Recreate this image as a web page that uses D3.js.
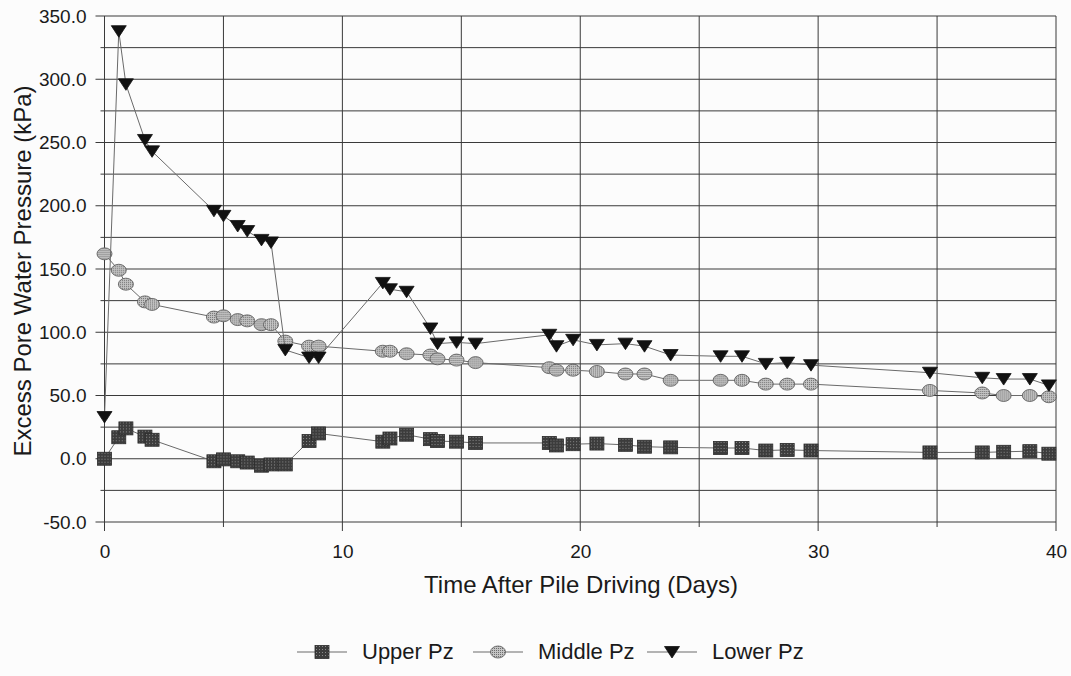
<!DOCTYPE html>
<html>
<head>
<meta charset="utf-8">
<script src="https://cdn.jsdelivr.net/npm/d3@7"></script>
<style>
  body { margin: 0; background: #fcfcfc; }
  text { font-family: "Liberation Sans", Arial, sans-serif; fill: #1a1a1a; }
</style>
</head>
<body>
<script>
"use strict";

// Width and height of the page
let w = 1071;
let h = 676;

// Days after pile driving (shared by all three piezometers)
let days = [0, 0.6, 0.9, 1.7, 2.0, 4.6, 5.0, 5.6, 6.0, 6.6, 7.0, 7.6, 8.6, 9.0,
            11.7, 12.0, 12.7, 13.7, 14.0, 14.8, 15.6, 18.7, 19.0, 19.7, 20.7, 21.9,
            22.7, 23.8, 25.9, 26.8, 27.8, 28.7, 29.7, 34.7, 36.9, 37.8, 38.9, 39.7];

let upperPz = [0, 17, 24, 17.5, 15, -2, -0.5, -2, -3, -5.5, -4.5, -4.5, 14, 20,
               13.5, 16, 19, 15.5, 14, 13.5, 12.5, 12.5, 10.5, 11.5, 12, 11,
               9.5, 9, 8.5, 8.5, 6.5, 7, 6.5, 5, 5, 5.5, 6, 4];

let middlePz = [162, 149, 138, 124, 122, 112, 113, 110, 109, 106, 106, 93, 89, 89,
                85, 85, 83, 82, 79, 78, 76, 72, 70, 70, 69, 67,
                67, 62, 62, 62, 59, 59, 59, 54, 52, 50, 50, 49];

let lowerPz = [33, 338, 296, 252, 243, 196, 192, 184, 180, 173, 171, 86, 80, 80,
               139, 134, 132, 103, 91, 92, 91, 98, 89, 94, 90, 91,
               89, 82, 81, 81, 75, 76, 74, 68, 64, 63, 63, 58];

let seriesNames = ["Upper Pz", "Middle Pz", "Lower Pz"];
let xTicks = [0, 10, 20, 30, 40];
let yTicks = [-50, 0, 50, 100, 150, 200, 250, 300, 350];

let x = d3.scaleLinear().domain([0, 40]).range([104.5, 1056]);
let y = d3.scaleLinear().domain([-50, 350]).range([522, 16]);

let svg = d3.select("body").append("svg")
    .attr("width", w)
    .attr("height", h);

// fill patterns for the scanned-looking markers
let defs = svg.append("defs");
let sq = defs.append("pattern").attr("id", "sqfill")
    .attr("width", 3).attr("height", 3).attr("patternUnits", "userSpaceOnUse");
sq.append("rect").attr("width", 3).attr("height", 3).attr("fill", "#3c3c3c");
sq.append("rect").attr("width", 1).attr("height", 1).attr("fill", "#8a8a8a");
let ci = defs.append("pattern").attr("id", "cifill")
    .attr("width", 2).attr("height", 2).attr("patternUnits", "userSpaceOnUse");
ci.append("rect").attr("width", 2).attr("height", 2).attr("fill", "#c4c4c4");
ci.append("rect").attr("width", 1).attr("height", 1).attr("fill", "#6e6e6e");

// grid: horizontal every 25, vertical every 5
let grid = svg.append("g").attr("class", "grid")
    .attr("stroke", "#3a3a3a").attr("stroke-width", 1);
grid.selectAll("line.hy")
    .data(d3.range(-50, 351, 25))
    .enter().append("line")
    .attr("x1", d => x(0) - (d % 50 === 0 ? 9 : 4))
    .attr("x2", x(40))
    .attr("y1", d => y(d)).attr("y2", d => y(d));
grid.selectAll("line.vx")
    .data(d3.range(0, 41, 5))
    .enter().append("line")
    .attr("x1", d => x(d)).attr("x2", d => x(d))
    .attr("y1", y(350))
    .attr("y2", d => y(-50) + (d % 10 === 0 ? 9 : 5));

// axis labels via d3 axes (lines hidden, grid drawn above)
let fmt = d => d3.format(".1f")(d).replace("\u2212", "-");
let yAxis = svg.append("g")
    .attr("transform", `translate(${x(0)},0)`)
    .call(d3.axisLeft(y).tickValues(yTicks).tickFormat(fmt).tickSize(0).tickPadding(18));
yAxis.select(".domain").remove();
yAxis.selectAll("text").attr("font-size", 19).attr("font-family", null).attr("fill", "#1a1a1a");

let xAxis = svg.append("g")
    .attr("transform", `translate(0,${y(-50)})`)
    .call(d3.axisBottom(x).tickValues(xTicks).tickSize(0).tickPadding(23));
xAxis.select(".domain").remove();
xAxis.selectAll("text").attr("font-size", 19).attr("font-family", null).attr("fill", "#1a1a1a");

svg.append("text")
    .attr("x", 581).attr("y", 593)
    .attr("text-anchor", "middle")
    .attr("font-size", 24)
    .text("Time After Pile Driving (Days)");

svg.append("text")
    .attr("transform", "translate(31,271) rotate(-90)")
    .attr("text-anchor", "middle")
    .attr("font-size", 24)
    .text("Excess Pore Water Pressure (kPa)");

// marker drawing
let drawMarker = function(sel, kind) {
    if (kind === 0) {
        sel.append("rect")
            .attr("x", -7).attr("y", -6.5).attr("width", 14).attr("height", 13)
            .attr("fill", "url(#sqfill)").attr("stroke", "#2a2a2a").attr("stroke-width", 0.8);
    } else if (kind === 1) {
        sel.append("ellipse")
            .attr("rx", 7.5).attr("ry", 6)
            .attr("fill", "url(#cifill)").attr("stroke", "#555").attr("stroke-width", 0.8);
    } else {
        sel.append("path")
            .attr("d", "M-7.5,-5.5 L7.5,-5.5 L0,6 Z")
            .attr("fill", "#111").attr("stroke", "#111").attr("stroke-width", 0.8);
    }
};

let allSeries = [upperPz, middlePz, lowerPz];
let line = d3.line()
    .x(d => x(d[0]))
    .y(d => y(d[1]));

allSeries.forEach((vals, k) => {
    let pts = days.map((d, i) => [d, vals[i]]);
    let g = svg.append("g").attr("class", "series");
    g.append("path")
        .datum(pts)
        .attr("d", line)
        .attr("fill", "none")
        .attr("stroke", "#6a6a6a")
        .attr("stroke-width", 1);
    g.selectAll("g.m")
        .data(pts)
        .enter().append("g")
        .attr("transform", d => `translate(${x(d[0])},${y(d[1])})`)
        .each(function() { drawMarker(d3.select(this), k); });
});

// legend
let legendX = [297, 473, 647];
let legend = svg.append("g").attr("class", "legend");
seriesNames.forEach((name, k) => {
    let g = legend.append("g").attr("transform", `translate(${legendX[k]},652)`);
    g.append("line").attr("x1", 0).attr("x2", 50)
        .attr("stroke", "#6a6a6a").attr("stroke-width", 1);
    drawMarker(g.append("g").attr("transform", "translate(25,0)"), k);
    g.append("text")
        .attr("x", 65).attr("y", 7)
        .attr("font-size", 22)
        .text(name);
});
</script>
</body>
</html>
